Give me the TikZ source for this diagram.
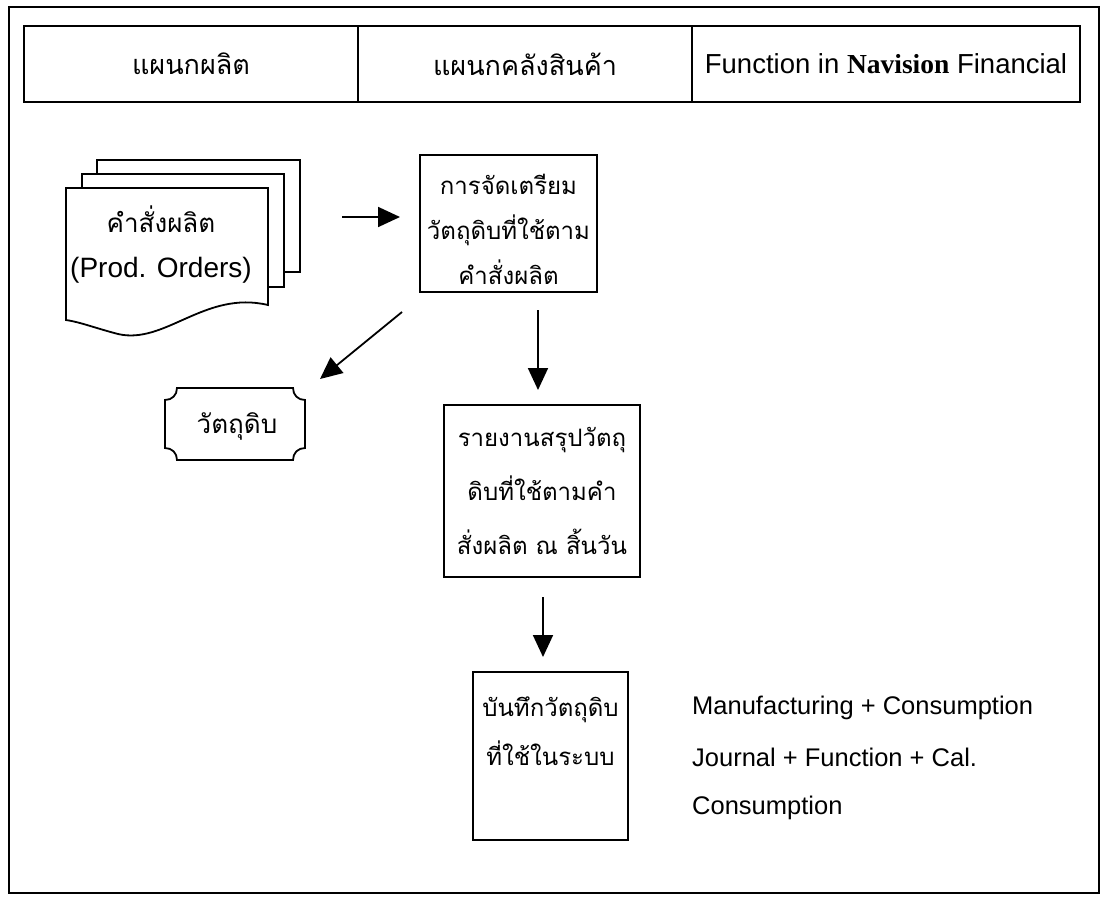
\documentclass[tikz,border=0pt]{standalone}
\usepackage{fontspec}
\setmainfont{Liberation Sans}
\newfontfamily\thaif[Script=Thai]{Loma}
\newfontfamily\timesf{Liberation Serif}
\usetikzlibrary{arrows.meta}
\tikzset{
  frame/.style={draw, line width=1.8pt},
  hdr/.style={frame, minimum height=76pt, inner sep=0pt},
  procbox/.style={frame, fill=white, align=center, inner sep=0pt, font=\thaif\fontsize{24}{45}\selectfont},
  page/.style={draw, line width=1.8pt, fill=white, line join=miter},
  arr/.style={line width=1.8pt, -{Triangle[length=22pt,width=20pt]}},
  lbl/.style={font=\fontsize{25.5}{30}\selectfont, anchor=west, inner sep=0pt},
  thtxt/.style={font=\thaif\fontsize{26}{45}\selectfont, align=center, inner sep=0pt}
}
\begin{document}
\begin{tikzpicture}[x=1pt,y=-1pt]
\useasboundingbox (0,0) rectangle (1103,897);
% outer frame
\draw[frame] (9,7) rectangle (1099,893);
% header
\node[hdr, minimum width=334pt, font=\thaif\fontsize{27}{30}\selectfont] (h1) at (191,64) {แผนกผลิต};
\node[hdr, minimum width=334pt, font=\thaif\fontsize{27}{30}\selectfont] (h2) at (525,64) {แผนกคลังสินค้า};
\node[hdr, minimum width=388pt, font=\fontsize{27.5}{30}\selectfont] (h3) at (886,64) {Function in {\timesf\bfseries Navision} Financial};
% document stack
\draw[page] (97,160) rectangle (300,272);
\draw[page] (82,174) rectangle (284,287);
\draw[page] (66,188) -- (268,188) -- (268,305) .. controls (205,290) and (165,345) .. (118,334) .. controls (95,328) and (80,322) .. (66,320) -- cycle;
\node[thtxt] (orders) at (161,245) {คำสั่งผลิต\\{\rmfamily\fontsize{28}{45}\selectfont (Prod. Orders)}};
% raw material card with concave corners
\draw[page] (177,388) -- (293,388) .. controls (293,395) and (298,400) .. (305,400)
  -- (305,448) .. controls (298,448) and (293,453) .. (293,460)
  -- (177,460) .. controls (177,453) and (172,448) .. (165,448)
  -- (165,400) .. controls (172,400) and (177,395) .. (177,388) -- cycle;
\node[thtxt] (raw) at (237,426) {วัตถุดิบ};
% process boxes
\node[procbox, minimum width=177pt, minimum height=137pt] (prep) at (508.5,223.5) {\rule{0pt}{32pt}การจัดเตรียม\\วัตถุดิบที่ใช้ตาม\\คำสั่งผลิต};
\node[procbox, minimum width=196pt, minimum height=172pt, font=\thaif\fontsize{24}{54}\selectfont] (report) at (542,491) {รายงานสรุปวัตถุ\\ดิบที่ใช้ตามคำ\\สั่งผลิต ณ สิ้นวัน};
\node[procbox, minimum width=155pt, minimum height=168pt, font=\thaif\fontsize{24}{49}\selectfont] (record) at (550.5,756) {บันทึกวัตถุดิบ\\ที่ใช้ในระบบ\\[-14pt]\strut};
% connector end points
\coordinate (a1s) at (342,217);
\coordinate (a1e) at (400,217);
\coordinate (a2s) at (402,312);
\coordinate (a2e) at (320,379);
\coordinate (a3s) at (538,310);
\coordinate (a3e) at (538,390);
\coordinate (a4s) at (543,597);
\coordinate (a4e) at (543,657);
\draw[arr] (a1s) -- (a1e);
\draw[arr] (a2s) -- (a2e);
\draw[arr] (a3s) -- (a3e);
\draw[arr] (a4s) -- (a4e);
% right-hand labels
\node[lbl] (fn1) at (692,708) {Manufacturing + Consumption};
\node[lbl] (fn2) at (692,757) {Journal + Function + Cal.};
\node[lbl] (fn3) at (692,808) {Consumption};
\end{tikzpicture}
\end{document}
